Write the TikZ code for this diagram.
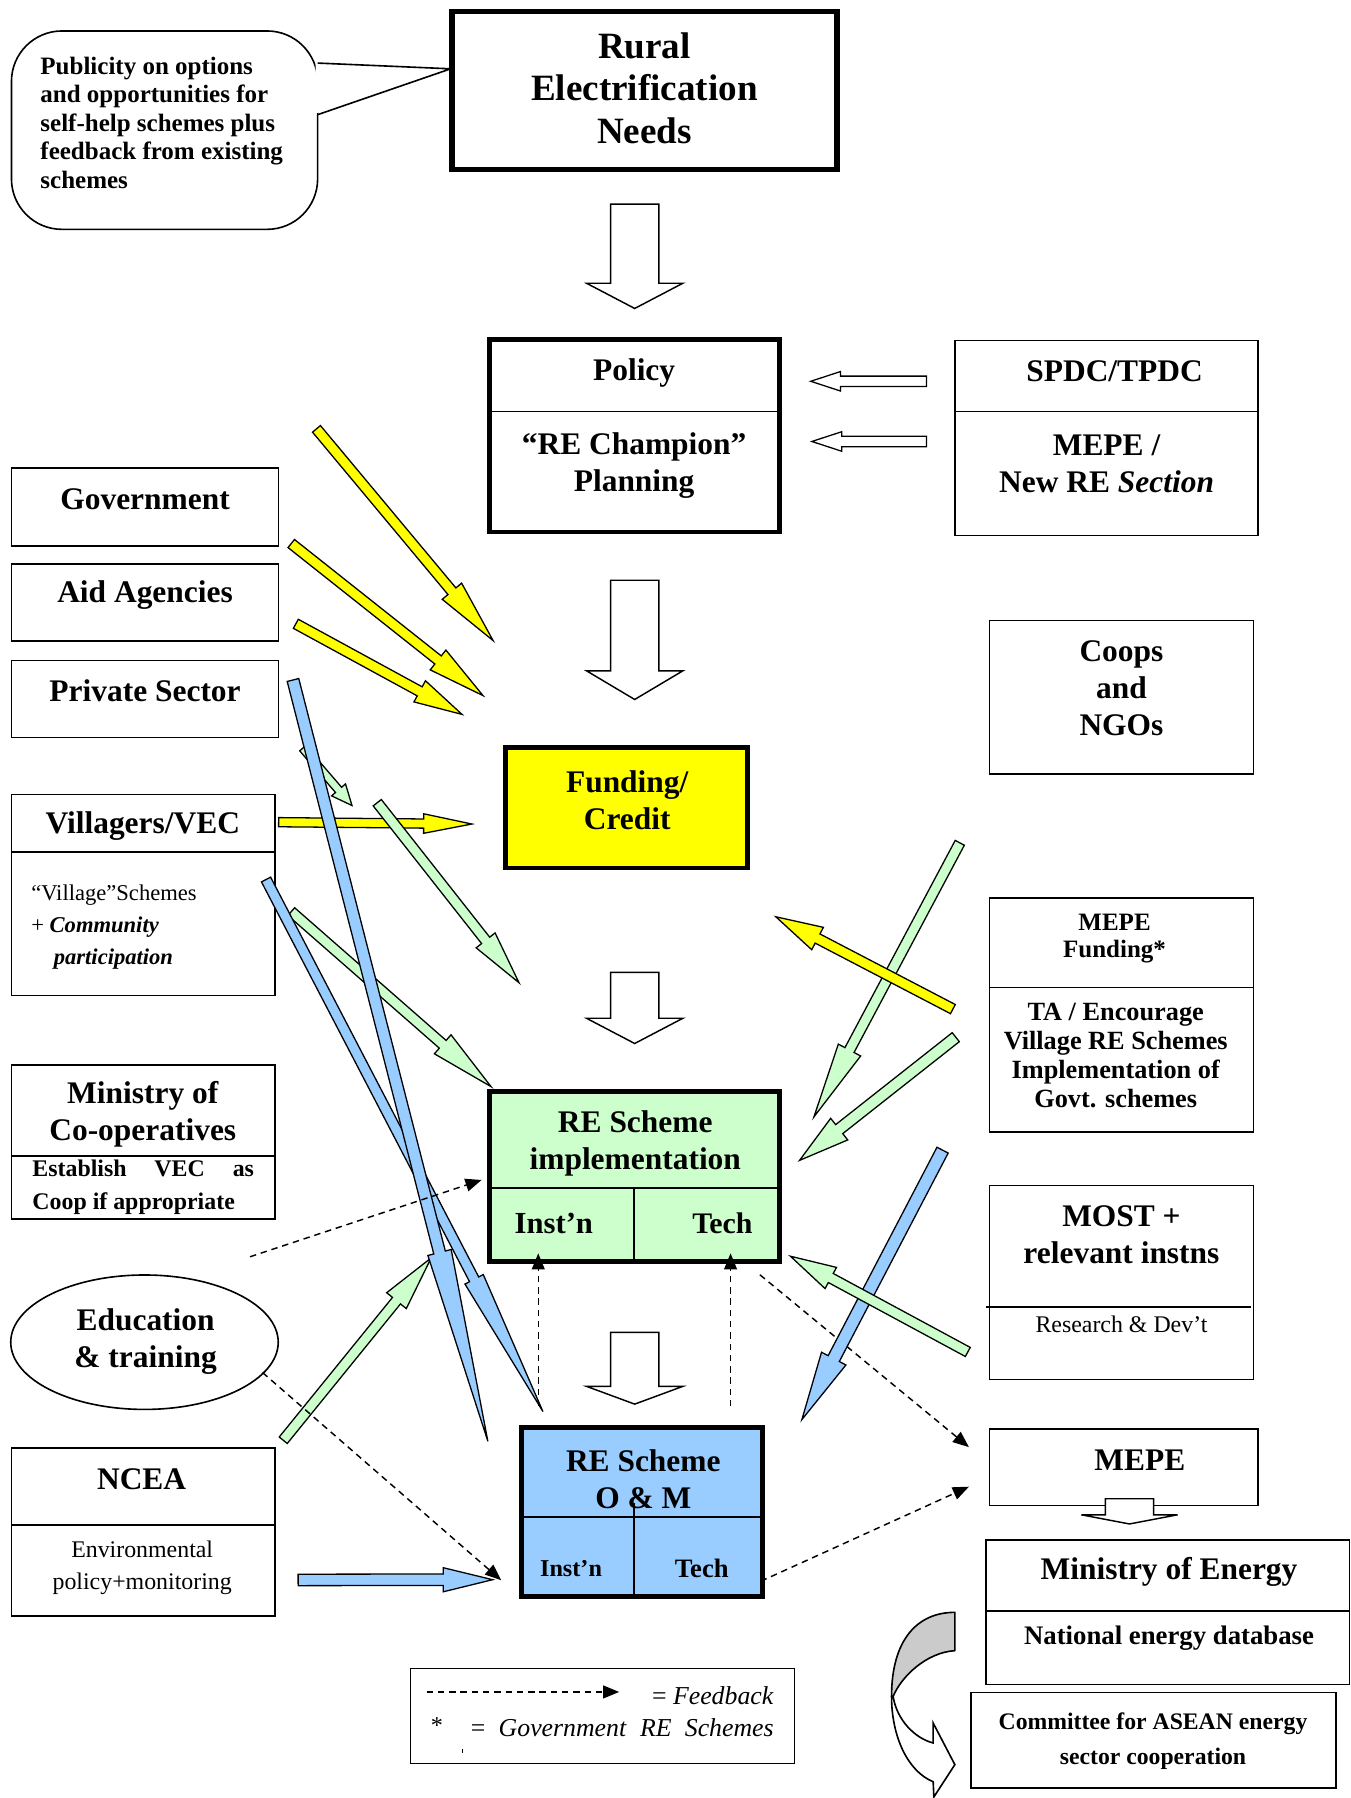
\documentclass[tikz,border=0pt]{standalone}
\usepackage{fontspec}
\setmainfont{Liberation Serif}
\usetikzlibrary{arrows.meta,calc,fit,shapes.geometric}

\definecolor{reyellow}{HTML}{FFFF00}
\definecolor{regreen}{HTML}{CCFFCC}
\definecolor{reblue}{HTML}{99CCFF}
\definecolor{regray}{HTML}{CBCBCB}

% one drawing unit
\newcommand\pxu{0.025cm}

% block arrow: fill, tail, tip, half shaft, half head, head length
\newcommand\fatarrow[6]{%
  \pgfpointdiff{\pgfpointanchor{#2}{center}}{\pgfpointanchor{#3}{center}}%
  \pgfgetlastxy{\fadx}{\fady}%
  \pgfmathsetmacro\faang{atan2(\fady,\fadx)}%
  \pgfmathsetmacro\falen{veclen(\fadx,\fady)}%
  \draw[arrline, fill=#1, shift={(#2)}, rotate=\faang]
    (0pt,{#4*\pxu}) -- ({\falen pt-#6*\pxu},{#4*\pxu}) -- ({\falen pt-#6*\pxu},{#5*\pxu})
    -- (\falen pt,0pt) -- ({\falen pt-#6*\pxu},{-#5*\pxu}) -- ({\falen pt-#6*\pxu},{-#4*\pxu})
    -- (0pt,{-#4*\pxu}) -- cycle;
}

% hollow downward arrow: x, top, head start, tip, half shaft, half head
\newcommand\hollowdown[6]{%
  \draw[arrline, line width=0.9pt, fill=white] ({#1-#5},#2) -- ({#1+#5},#2) -- ({#1+#5},#3)
    -- ({#1+#6},#3) -- (#1,#4) -- ({#1-#6},#3) -- ({#1-#5},#3) -- cycle;
}

\tikzset{
  thinbox/.style={draw, line width=1pt, inner sep=0pt},
  thickbox/.style={draw, line width=3pt, inner sep=0pt},
  divider/.style={line width=1pt},
  arrline/.style={draw=black, line width=0.8pt, line join=miter},
  feedback/.style={line width=0.9pt, dash pattern=on 4pt off 3pt,
    -{Triangle[length=10pt,width=8pt]}},
  lbl/.style={align=center, inner sep=0pt},
  t23/.style={lbl, font=\fontsize{23}{26.5}\selectfont\bfseries},
  t20/.style={lbl, font=\fontsize{19.5}{23}\selectfont\bfseries},
  t16/.style={lbl, font=\fontsize{16.3}{18}\selectfont\bfseries},
  t15/.style={lbl, font=\fontsize{15.5}{17.6}\selectfont\bfseries},
  r15/.style={lbl, font=\fontsize{14.8}{20}\selectfont},
}

\begin{document}
\begin{tikzpicture}[x=0.025cm, y=-0.025cm]
\useasboundingbox (0,0) rectangle (1178,1568);

% ---------- top: publicity callout and needs ----------
\coordinate (pubtip) at (393,60);
\node[thinbox, rounded corners=1.1cm, fit={(10,27)(277,200)}] (pub) {};
\fill[white] (275.3,56) -- (pubtip) -- (275.3,99) -- cycle;
\draw[line width=1pt] (277,55) -- (pubtip) -- (277,100);
\node[t15, align=left, anchor=west] (pubtxt) at (35,107)
  {Publicity on options\\and opportunities for\\self-help schemes plus\\feedback from existing\\schemes};

\node[thickbox, line width=3.4pt, fit={(394,10)(730,148)}] (need) {};
\node[t23] (needtxt) at (562,77) {Rural\\Electrification\\Needs};

% ---------- policy row ----------
\node[thickbox, fit={(427,296)(680,464)}] (pol) {};
\draw[divider] (427,359) -- (680,359);
\node[t20] (poltxt) at (553,325.5) {Policy};
\node[t20] (champ) at (553,406) {“RE Champion”\\Planning};

\node[thinbox, fit={(833,297)(1097,467)}] (spdc) {};
\draw[divider] (833,359) -- (1097,359);
\node[t20] (spdctxt) at (972,324) {SPDC/TPDC};
\node[t20] (mepesec) at (965,404.5) {MEPE /\\New RE \textit{Section}};

% ---------- left column ----------
\node[thinbox, fit={(10,408)(243,476)}] (gov) {};
\node[t20] (govtxt) at (126.5,435) {Government};
\node[thinbox, fit={(10,492)(243,559)}] (aid) {};
\node[t20] (aidtxt) at (126.5,519) {Aid Agencies};
\node[thinbox, fit={(10,576)(243,643)}] (priv) {};
\node[t20] (privtxt) at (126.5,602) {Private Sector};

\node[thinbox, fit={(10,693)(240,868)}] (vil) {};
\draw[divider] (10,743) -- (240,743);
\node[t20] (viltxt) at (124.5,720) {Villagers/VEC};
\node[lbl, align=left, anchor=west, font=\fontsize{14}{20}\selectfont] (vilbody) at (27,808.5)
  {“Village”Schemes\\+ \textbf{\textit{Community}}\\\hspace*{14pt}\textbf{\textit{participation}}};

\node[thinbox, fit={(10,929)(240,1063)}] (coop) {};
\draw[divider] (10,1008) -- (240,1008);
\node[t20] (cooptxt) at (124.5,971.5) {Ministry of\\Co-operatives};
\begin{scope}
  \clip (10,1008) rectangle (240,1063);
  \node[lbl, anchor=base west, font=\fontsize{14.8}{20}\selectfont\bfseries] (coopa) at (28,1026)
    {\makebox[4.83cm][s]{Establish VEC as}};
  \node[lbl, anchor=base west, font=\fontsize{14.8}{20}\selectfont\bfseries] (coopb) at (28,1055)
    {Coop if appropriate};
\end{scope}

\node[draw, line width=1pt, ellipse, inner sep=0pt, minimum width=5.83cm, minimum height=2.93cm]
  (edu) at (126,1170.5) {};
\node[t20] (edutxt) at (127,1170) {Education\\\& training};

\node[thinbox, fit={(10,1263)(240,1409)}] (ncea) {};
\draw[divider] (10,1330) -- (240,1330);
\node[t20] (nceatxt) at (123.5,1290) {NCEA};
\node[r15] (envtxt) at (124,1367.5) {Environmental\\policy+monitoring};

% ---------- centre column ----------
\node[thickbox, fill=reyellow, fit={(441,652)(652,757)}] (fund) {};
\node[t20] (fundtxt) at (547,697.5) {Funding/\\Credit};

\node[thickbox, fill=regreen, fit={(427,952)(680,1100)}] (impl) {};
\draw[divider] (427,1036) -- (680,1036);
\draw[divider] (553,1036) -- (553,1100);
\node[t20] (impltxt) at (554,997) {RE Scheme\\implementation};
\node[lbl, font=\fontsize{19}{22}\selectfont\bfseries] (implinst) at (483,1067) {Inst’n};
\node[lbl, font=\fontsize{18.5}{22}\selectfont\bfseries] (impltech) at (630,1067) {Tech};

\node[thickbox, line width=3.2pt, fill=reblue, fit={(455,1245)(665,1392)}] (om) {};
\node[t20] (omtxt) at (561,1290) {RE Scheme\\O \& M};
\draw[divider] (455,1323) -- (665,1323);
\draw[divider] (553,1311) -- (553,1392);
\node[lbl, font=\fontsize{15}{18}\selectfont\bfseries] (ominst) at (498,1368) {Inst’n};
\node[lbl, font=\fontsize{16.5}{18}\selectfont\bfseries] (omtech) at (612,1368) {Tech};

\hollowdown{553.5}{178}{247}{269}{21}{42}
\hollowdown{553.5}{506}{585}{610}{21}{42}
\hollowdown{553.5}{848}{888}{910}{21}{42}
\hollowdown{553.5}{1162}{1209}{1224.5}{21}{42}

% ---------- right column ----------
\node[thinbox, fit={(863,541)(1093,675)}] (ngo) {};
\node[t20] (ngotxt) at (978,600) {Coops\\and\\NGOs};

\node[thinbox, fit={(863,783)(1093,987)}] (mfund) {};
\draw[divider] (863,861) -- (1093,861);
\node[lbl, font=\fontsize{15.5}{17}\selectfont\bfseries] (mfundtxt) at (972,818.5) {MEPE\\Funding*};
\node[t16] (tatxt) at (973,920.5) {TA / Encourage\\Village RE Schemes\\Implementation of\\Govt. schemes};

\node[thinbox, fit={(863,1034)(1093,1203)}] (most) {};
\draw[divider] (860,1140) -- (1091,1140);
\node[t20] (mosttxt) at (978,1077) {MOST +\\relevant instns};
\node[r15] (rdtxt) at (978,1155) {Research \& Dev’t};

\node[thinbox, fit={(863,1246)(1097,1313)}] (mepe) {};
\node[t20] (mepetxt) at (994,1273.5) {MEPE};
\hollowdown{985}{1307}{1321}{1329}{21}{42}

\node[thinbox, fit={(860,1343)(1177,1469)}] (moe) {};
\draw[divider] (860,1405) -- (1177,1405);
\node[t20] (moetxt) at (1019.5,1371) {Ministry of Energy};
\node[lbl, font=\fontsize{16.6}{19}\selectfont\bfseries] (dbtxt) at (1019.5,1428.5) {National energy database};

\node[thinbox, fit={(847,1476)(1165,1559)}] (asean) {};
\node[lbl, font=\fontsize{14.7}{21.3}\selectfont\bfseries] (aseantxt) at (1005.5,1518.5)
  {Committee for ASEAN energy\\sector cooperation};

% curved hand-over arrow to the ASEAN committee
\filldraw[fill=regray, line width=1pt, line join=round]
  (832.7,1406.1) .. controls (800,1406) and (777.5,1430) .. (777.5,1479.4)
  -- (778.9,1479.4)
  .. controls (786,1462) and (808,1441) .. (832.7,1439.5) -- cycle;
\filldraw[fill=white, line width=1pt, line join=miter]
  (777.5,1479.4) .. controls (777.5,1515) and (792,1545) .. (813.8,1553.8)
  -- (814.4,1567.1) -- (832.7,1538.9) -- (813.8,1502.6) -- (813.8,1520)
  .. controls (798,1516) and (782,1500) .. (778.9,1479.4) -- cycle;

% ---------- legend ----------
\node[thinbox, fit={(358,1455)(693,1538)}] (leg) {};
\coordinate (lega) at (372,1475.5);
\coordinate (legb) at (540,1475.5);
\draw[feedback] (lega) -- (legb);
\node[lbl, anchor=east, font=\fontsize{16}{18}\selectfont] (legfb) at (675,1479) {= \textit{Feedback}};
\node[lbl, font=\fontsize{15}{18}\selectfont] (legstar) at (381,1505) {*};
\node[lbl, anchor=east, font=\fontsize{16}{18}\selectfont] (leggov) at (675,1507)
  {\makebox[6.6cm][s]{= \textit{Government} \textit{RE} \textit{Schemes}}};
\draw[line width=0.8pt] (403.5,1525.5) -- (403.5,1528.5);

% ---------- SPDC arrows into policy ----------
\coordinate (sp1s) at (808,332.5);  \coordinate (sp1e) at (707,332.5);
\coordinate (sp2s) at (808,385);    \coordinate (sp2e) at (708,385);
\fatarrow{white}{sp1s}{sp1e}{4.5}{8.5}{26}
\fatarrow{white}{sp2s}{sp2e}{4.5}{8.5}{26}

% ---------- funding arrows ----------
\coordinate (y1s) at (276,374);   \coordinate (y1e) at (430,558.6);
\coordinate (y2s) at (254,474);   \coordinate (y2e) at (421.2,606.6);
\coordinate (y3s) at (258,544);   \coordinate (y3e) at (402.9,623);
\coordinate (y4s) at (243,717);   \coordinate (y4e) at (411.5,718.6);
\fatarrow{reyellow}{y1s}{y1e}{4.5}{11}{56}
\fatarrow{reyellow}{y2s}{y2e}{4.5}{11}{50}
\fatarrow{reyellow}{y3s}{y3e}{4.5}{10.5}{42}
\fatarrow{reyellow}{y4s}{y4e}{4}{8.5}{42}

% ---------- implementation support arrows ----------
\coordinate (g1s) at (264,652.5);  \coordinate (g1e) at (307,702.5);
\coordinate (g2s) at (329,700);    \coordinate (g2e) at (452.6,857);
\coordinate (g3s) at (254,795);    \coordinate (g3e) at (428.2,947.6);
\coordinate (g4s) at (247,1256);   \coordinate (g4e) at (376,1097);
\coordinate (g5s) at (837,735);    \coordinate (g5e) at (709.8,974);
\coordinate (g6s) at (833.5,904.5);\coordinate (g6e) at (697.2,1012);
\coordinate (g7s) at (844,1179);   \coordinate (g7e) at (689.3,1095.5);
\fatarrow{regreen}{g1s}{g1e}{3.5}{8}{18}
\fatarrow{regreen}{g2s}{g2e}{4.5}{10.5}{47}
\fatarrow{regreen}{g3s}{g3e}{4.5}{11}{56}
\fatarrow{regreen}{g4s}{g4e}{4.5}{11}{48}
\fatarrow{regreen}{g5s}{g5e}{4.5}{11}{66}
\fatarrow{regreen}{g6s}{g6e}{5}{12}{44}

\coordinate (y5s) at (831,880);    \coordinate (y5e) at (676.6,799.5);
\fatarrow{reyellow}{y5s}{y5e}{4.5}{11}{41}

% feedback from implementation to MEPE runs beneath the blue arrow
\coordinate (d4s) at (662.7,1111.7); \coordinate (d4e) at (845,1262);
\draw[feedback] (d4s) -- (d4e);

% ---------- O&M arrows ----------
\coordinate (b1s) at (255.5,593);  \coordinate (b1e) at (425.5,1257);
\coordinate (b2s) at (232,767);    \coordinate (b2e) at (473.5,1231);
\coordinate (b3s) at (822,1003);   \coordinate (b3e) at (699.3,1238);
\coordinate (b4s) at (260,1377.8); \coordinate (b4e) at (429.6,1377.6);
\fatarrow{reblue}{b2s}{b2e}{4.5}{9}{130}
\fatarrow{reblue}{b1s}{b1e}{5.2}{10.5}{170}
\fatarrow{reblue}{b3s}{b3e}{5.5}{12}{60}
\fatarrow{reblue}{b4s}{b4e}{5}{10.5}{43}
\fatarrow{regreen}{g7s}{g7e}{4.5}{10.5}{40}

% ---------- feedback ----------
\coordinate (d1s) at (218,1096);   \coordinate (d1e) at (420,1029);
\coordinate (d2s) at (469.4,1226.5); \coordinate (d2e) at (469.4,1093);
\coordinate (d3s) at (637.1,1226.5); \coordinate (d3e) at (637.1,1093);
\coordinate (d5s) at (229,1197);   \coordinate (d5e) at (437,1378);
\coordinate (d6s) at (663.4,1379); \coordinate (d6e) at (845,1296.5);
\draw[feedback] (d1s) -- (d1e);
\draw[feedback] (d2s) -- (d2e);
\draw[feedback] (d3s) -- (d3e);
\draw[feedback] (d5s) -- (d5e);
\draw[feedback] (d6s) -- (d6e);
\end{tikzpicture}
\end{document}
